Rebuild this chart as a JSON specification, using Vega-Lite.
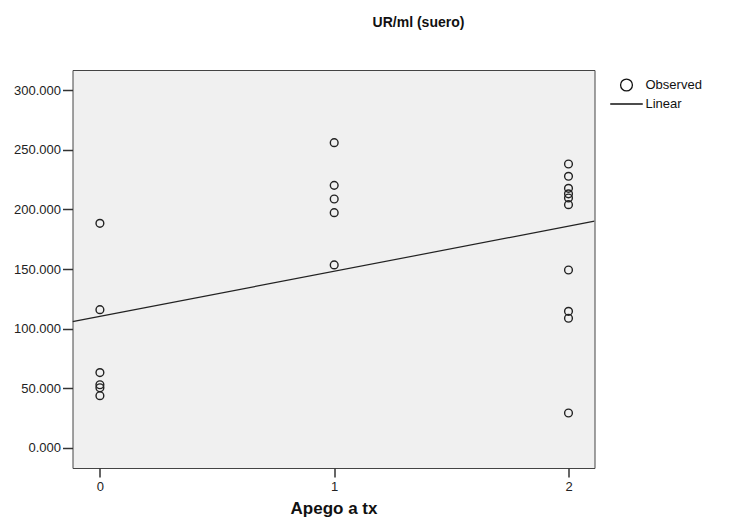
{
  "$schema": "https://vega.github.io/schema/vega-lite/v6.json",
  "width": 522,
  "height": 398,
  "autosize": {"type": "none"},
  "padding": {"left": 72.5, "top": 70, "right": 143.5, "bottom": 55},
  "background": "white",
  "title": {
    "text": "UR/ml (suero)",
    "font": "Liberation Sans",
    "fontSize": 14,
    "fontWeight": "bold",
    "color": "#111",
    "anchor": "middle",
    "dx": 85,
    "offset": 40
  },
  "config": {
    "view": {"fill": "#f0f0f0", "stroke": "#444", "strokeWidth": 1},
    "font": "Liberation Sans",
    "axis": {
      "domain": false,
      "grid": false,
      "tickColor": "#333",
      "tickWidth": 1.5,
      "labelFont": "Liberation Sans",
      "labelFontSize": 13,
      "labelColor": "#222",
      "titleFont": "Liberation Sans",
      "titleColor": "#111"
    }
  },
  "data": {
    "values": [
      {"apego": 0, "ur": 188.3},
      {"apego": 0, "ur": 115.9},
      {"apego": 0, "ur": 63.2},
      {"apego": 0, "ur": 53.0},
      {"apego": 0, "ur": 50.5},
      {"apego": 0, "ur": 43.8},
      {"apego": 1, "ur": 255.9},
      {"apego": 1, "ur": 220.1},
      {"apego": 1, "ur": 208.7},
      {"apego": 1, "ur": 197.2},
      {"apego": 1, "ur": 153.4},
      {"apego": 2, "ur": 238.0},
      {"apego": 2, "ur": 227.7},
      {"apego": 2, "ur": 217.6},
      {"apego": 2, "ur": 213.0},
      {"apego": 2, "ur": 209.5},
      {"apego": 2, "ur": 203.9},
      {"apego": 2, "ur": 149.2},
      {"apego": 2, "ur": 114.5},
      {"apego": 2, "ur": 108.7},
      {"apego": 2, "ur": 29.3}
    ]
  },
  "encoding": {
    "x": {
      "field": "apego",
      "type": "quantitative",
      "scale": {"domain": [-0.117, 2.111], "nice": false, "zero": false},
      "axis": {
        "values": [0, 1, 2],
        "format": "d",
        "tickSize": 9,
        "labelPadding": 3,
        "title": "Apego a tx",
        "titleFontSize": 17,
        "titleFontWeight": "bold",
        "titlePadding": 7
      }
    },
    "y": {
      "field": "ur",
      "type": "quantitative",
      "scale": {"domain": [-16.8, 316.8], "nice": false, "zero": false},
      "axis": {
        "values": [0, 50, 100, 150, 200, 250, 300],
        "format": ".3f",
        "tickSize": 10,
        "labelPadding": 2,
        "title": null
      }
    }
  },
  "layer": [
    {
      "mark": {"type": "point", "filled": false, "shape": "circle", "size": 60, "stroke": "#222", "strokeWidth": 1.4, "opacity": 1},
      "encoding": {
        "shape": {
          "datum": "Observed",
          "type": "nominal",
          "scale": {"domain": ["Observed", "Linear"], "range": ["circle", "M-2.75,0L2.75,0"]},
          "legend": {
            "title": null,
            "orient": "right",
            "offset": 17,
            "padding": 8,
            "symbolSize": 140,
            "symbolStrokeColor": "#111",
            "symbolStrokeWidth": 1.3,
            "symbolFillColor": "transparent",
            "labelFont": "Liberation Sans",
            "labelFontSize": 13,
            "labelColor": "#111",
            "labelOffset": 12,
            "rowPadding": 3
          }
        }
      }
    },
    {
      "transform": [{"regression": "ur", "on": "apego", "extent": [-0.117, 2.111]}],
      "mark": {"type": "line", "color": "#222", "strokeWidth": 1.2, "clip": true},
      "encoding": {}
    }
  ]
}
